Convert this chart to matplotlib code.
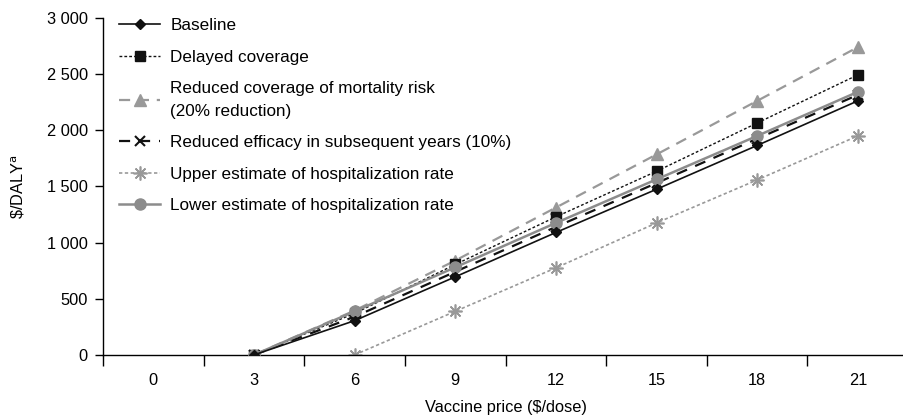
import numpy as np
import matplotlib.pyplot as plt
from matplotlib.ticker import FuncFormatter, FixedLocator

plt.rcParams['font.family'] = ['Liberation Sans', 'DejaVu Sans']

prices = ['0', '3', '6', '9', '12', '15', '18', '21']
baseline = [np.nan, 0, 305, 695, 1090, 1475, 1865, 2262]
delayed = [np.nan, 0, 370, 805, 1229, 1635, 2065, 2493]
reduced_cov = [np.nan, 0, 395, 840, 1312, 1785, 2262, 2740]
reduced_eff = [np.nan, 0, 340, 740, 1140, 1530, 1925, 2315]
upper_hosp = [np.nan, np.nan, 0, 388, 775, 1175, 1558, 1950]
lower_hosp = [np.nan, 0, 388, 780, 1175, 1563, 1950, 2342]

x = np.arange(len(prices))
fs = 11.8

fig = plt.figure(figsize=(9.04, 4.19), dpi=100)
ax = fig.add_axes([0.114, 0.153, 0.8905, 0.804])

ax.plot(x, baseline, color='#111111', lw=1.2, marker='D', ms=5,
        label='Baseline', zorder=6)
ax.plot(x, delayed, color='#111111', lw=1.0, ls=(0, (2, 1.5)), marker='s', ms=7,
        label='Delayed coverage', zorder=3)
ax.plot(x, reduced_cov, color='#999999', lw=1.6, ls=(0, (5, 3.5)), marker='^', ms=9,
        label='Reduced coverage of mortality risk\n(20% reduction)', zorder=2)
ax.plot(x, reduced_eff, color='#111111', lw=1.6, ls=(0, (5, 4)), marker='x', ms=7,
        mew=1.5, label='Reduced efficacy in subsequent years (10%)', zorder=4)
ax.plot(x, upper_hosp, color='#999999', lw=1.2, ls=(0, (2, 1.5)), marker=(8, 2, 0), ms=10,
        mew=1.2, label='Upper estimate of hospitalization rate', zorder=2)
ax.plot(x, lower_hosp, color='#8c8c8c', lw=1.8, marker='o', ms=8,
        label='Lower estimate of hospitalization rate', zorder=5)

ax.set_xlim(-0.5, 7.5)
ax.set_ylim(0, 3000)
ax.set_yticks(np.arange(0, 3001, 500))
ax.yaxis.set_major_formatter(FuncFormatter(lambda v, p: f'{int(v):,}'.replace(',', ' ')))

ax.set_xticks(x)
ax.set_xticklabels(prices)
ax.xaxis.set_minor_locator(FixedLocator(np.arange(-0.5, 8, 1)))
ax.tick_params(axis='x', which='major', length=0, pad=13, labelsize=fs)
ax.tick_params(axis='x', which='minor', length=8, width=1, direction='out')
ax.tick_params(axis='y', length=6, width=1, direction='out', labelsize=fs, pad=5)

for s in ['top', 'right']:
    ax.spines[s].set_visible(False)
ax.spines['left'].set_linewidth(1)
ax.spines['bottom'].set_linewidth(1)

ax.set_xlabel('Vaccine price ($/dose)', fontsize=fs, labelpad=9)
ax.set_ylabel('\\$/DALY$^{\\mathrm{a}}$', fontsize=fs, labelpad=14)

leg = ax.legend(loc='upper left', bbox_to_anchor=(0.005, 1.035), frameon=False,
                fontsize=12.3, handlelength=2.4, handletextpad=0.6,
                labelspacing=0.97, borderaxespad=0.3)
for t in leg.get_texts():
    t.set_linespacing(1.6)

fig.savefig('out.png', dpi=100)
